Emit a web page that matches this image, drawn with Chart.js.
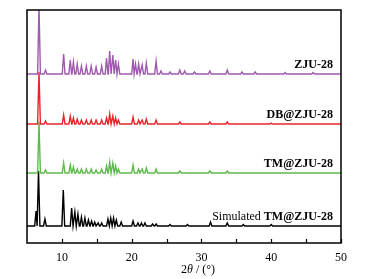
<!DOCTYPE html>
<html>
<head>
<meta charset="utf-8">
<script src="https://cdn.jsdelivr.net/npm/chart.js@4.4.1/dist/chart.umd.min.js"></script>
<style>
  html, body { margin: 0; padding: 0; background: #fff; }
</style>
</head>
<body>
<canvas id="xrd" width="376" height="279"></canvas>
<script>
// pattern names, top to bottom
const seriesNames = ["ZJU-28", "DB@ZJU-28", "TM@ZJU-28", "Simulated TM@ZJU-28"];
const seriesColors = ["#a05aae", "#e8262a", "#5dbb4c", "#000000"];
// vertical stacking offsets (arbitrary intensity units)
const seriesOffsets = [169, 119, 70, 17];

// [2theta, intensity above baseline]
const zjuPeaks = [
  [6.72, 68], [7.65, 4], [10.25, 20], [11.2, 14], [11.65, 12], [12.2, 10], [12.8, 8],
  [13.5, 8], [14.2, 8], [14.9, 7], [15.7, 8], [16.4, 16], [16.85, 23], [17.3, 19],
  [17.7, 14], [18.1, 10], [20.2, 15], [20.55, 10], [21.0, 10], [21.5, 9], [22.1, 11],
  [23.5, 13], [24.2, 3], [25.5, 2], [26.9, 4], [27.6, 3], [29.0, 2], [31.2, 3],
  [33.7, 4], [35.8, 2], [37.7, 2], [42.0, 1.5], [46.0, 1.5]
];
const dbPeaks = [
  [6.72, 52], [7.65, 3], [10.25, 9], [11.2, 8], [11.65, 6], [12.2, 5], [12.8, 4],
  [13.5, 4], [14.2, 4], [14.9, 4], [15.7, 4], [16.4, 6], [16.85, 10], [17.3, 8],
  [17.7, 6], [18.1, 4], [20.2, 7], [21.0, 4], [21.5, 4], [22.1, 5], [23.5, 4],
  [26.9, 2], [31.2, 2], [33.7, 2], [40.0, 1]
];
const tmPeaks = [
  [6.72, 51], [7.65, 3], [10.25, 10], [11.2, 8], [11.65, 6], [12.2, 4], [12.8, 4],
  [13.5, 4], [14.2, 4], [14.9, 3], [15.7, 4], [16.4, 7], [16.85, 11], [17.3, 10],
  [17.7, 7], [18.1, 4], [20.2, 8], [21.0, 4], [21.5, 4], [22.1, 5], [23.5, 4],
  [26.9, 2], [31.2, 2], [33.7, 2]
];
const simPeaks = [
  [6.3, 15], [6.65, 55], [7.57, 7], [10.2, 36], [11.4, 18], [11.86, 14], [12.3, 12],
  [12.8, 9], [13.3, 8], [13.8, 6], [14.25, 5], [14.7, 4], [15.2, 3], [15.7, 3],
  [16.6, 7], [17.0, 8], [17.4, 8], [17.8, 6], [18.5, 4], [20.2, 5], [20.9, 3],
  [21.4, 3], [21.9, 3], [23.0, 2], [23.5, 2], [25.5, 1.5], [28.0, 1.5], [31.3, 4],
  [33.7, 3], [36.0, 1.5], [40.0, 1.5]
];
const allPeaks = [zjuPeaks, dbPeaks, tmPeaks, simPeaks];

const majorTicks = [10, 20, 30, 40, 50];
const minorTicks = [15, 25, 35, 45];
const xMin = 5, xMax = 50;

// turn a peak table into a profile sitting on its baseline
function profile(peaks, offset) {
  const halfWidth = 0.2;
  const pts = [{ x: xMin, y: offset }];
  peaks.forEach(([p, h]) => {
    pts.push({ x: p - halfWidth, y: offset });
    pts.push({ x: p, y: offset + h });
    pts.push({ x: p + halfWidth, y: offset });
  });
  pts.push({ x: xMax, y: offset });
  return pts.sort((a, b) => a.x - b.x);
}

const framePlugin = {
  id: "frame",
  afterDraw(chart) {
    const { ctx, chartArea: a, scales: { x, y } } = chart;
    ctx.save();
    ctx.strokeStyle = "#000";
    ctx.lineWidth = 1.5;
    ctx.strokeRect(a.left, a.top, a.right - a.left, a.bottom - a.top);

    // inward ticks on the bottom axis
    ctx.lineWidth = 1.2;
    majorTicks.concat(minorTicks).forEach((v) => {
      const px = Math.round(x.getPixelForValue(v)) + 0.5;
      ctx.beginPath();
      ctx.moveTo(px, a.bottom);
      ctx.lineTo(px, a.bottom - 4);
      ctx.stroke();
    });

    // series names
    ctx.fillStyle = "#000";
    ctx.textAlign = "right";
    ctx.textBaseline = "alphabetic";
    const right = a.right - 8;
    seriesNames.forEach((name, i) => {
      const ly = y.getPixelForValue(seriesOffsets[i]) - 6;
      if (name.startsWith("Simulated ")) {
        const bold = name.slice(10);
        ctx.font = "bold 12px 'Liberation Serif'";
        ctx.fillText(bold, right, ly);
        const w = ctx.measureText(bold).width;
        ctx.font = "12px 'Liberation Serif'";
        ctx.fillText("Simulated ", right - w, ly);
      } else {
        ctx.font = "bold 12px 'Liberation Serif'";
        ctx.fillText(name, right, ly);
      }
    });

    // axis title: 2θ / (°) with italic theta
    const parts = [["2", "12px 'Liberation Serif'"], ["θ", "italic 12px 'Liberation Serif'"], [" / (°)", "12px 'Liberation Serif'"]];
    let total = 0;
    parts.forEach(([t, f]) => { ctx.font = f; total += ctx.measureText(t).width; });
    let tx = 198 - total / 2;
    ctx.textAlign = "left";
    parts.forEach(([t, f]) => {
      ctx.font = f;
      ctx.fillText(t, tx, 273);
      tx += ctx.measureText(t).width;
    });
    ctx.restore();
  }
};

new Chart(document.getElementById("xrd").getContext("2d"), {
  type: "line",
  data: {
    datasets: allPeaks.map((peaks, i) => ({
      label: seriesNames[i],
      data: profile(peaks, seriesOffsets[i]),
      borderColor: seriesColors[i],
      borderWidth: 1.4,
      pointRadius: 0,
      tension: 0,
      fill: false,
    })),
  },
  options: {
    responsive: false,
    animation: false,
    devicePixelRatio: 1,
    layout: { padding: { left: 27, right: 35, top: 10, bottom: 0 } },
    plugins: {
      legend: { display: false },
      tooltip: { enabled: false },
    },
    scales: {
      x: {
        type: "linear",
        min: xMin,
        max: xMax,
        grid: { display: false },
        border: { display: false },
        afterBuildTicks: (s) => { s.ticks = majorTicks.map((v) => ({ value: v })); },
        afterFit: (s) => { s.height = 36; },
        ticks: {
          color: "#000",
          padding: 0,
          maxRotation: 0,
          font: { family: "'Liberation Serif'", size: 12 },
        },
      },
      y: {
        display: false,
        min: 0,
        max: 233,
      },
    },
  },
  plugins: [framePlugin],
});
</script>
</body>
</html>
